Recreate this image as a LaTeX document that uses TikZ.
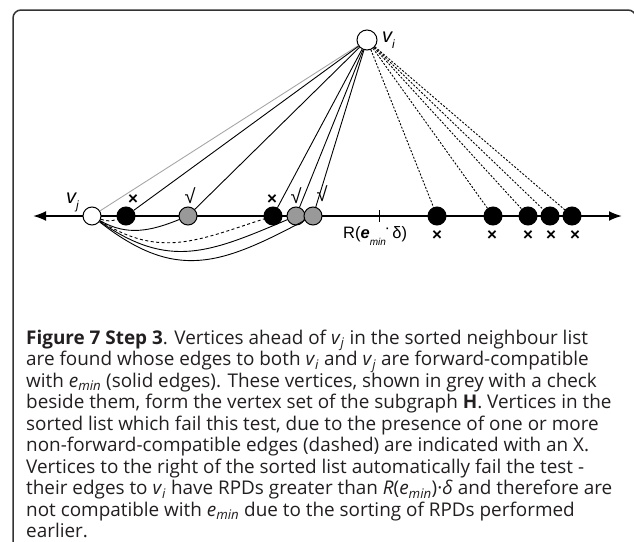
\documentclass[tikz,border=0pt]{standalone}
\usepackage{fontspec}
\setmainfont{Open Sans}
\newfontfamily\diagfont{Liberation Sans}
\usetikzlibrary{arrows.meta}
\definecolor{passgrey}{HTML}{999999}
\definecolor{captext}{HTML}{231F20}
\definecolor{framegrey}{HTML}{333333}
\newcommand\vlab[1]{{\diagfont\fontsize{20}{20}\selectfont\itshape v\raisebox{-0.3em}{\fontsize{12}{12}\selectfont #1}}}
\tikzset{
  vtx/.style={circle, draw=black, line width=1pt, minimum size=18pt, inner sep=0pt},
  endv/.style={vtx, fill=white},
  failv/.style={vtx, fill=black},
  passv/.style={vtx, fill=passgrey},
  axisline/.style={line width=2pt, {Latex[length=13pt,width=10pt]}-{Latex[length=13pt,width=10pt]}},
  okedge/.style={line width=0.9pt},
  badedge/.style={line width=0.9pt, dash pattern=on 2pt off 1.6pt},
  curvedash/.style={line width=0.9pt, dash pattern=on 3pt off 2.5pt},
  xmk/.style={inner sep=0pt, font=\diagfont\bfseries\fontsize{17}{17}\selectfont},
  okmk/.style={inner sep=0pt, font=\diagfont\fontsize{20}{20}\selectfont},
  capline/.style={anchor=base west, inner sep=0pt, text=captext,
    font=\fontsize{18.9}{21.6}\selectfont}
}
\begin{document}
\begin{tikzpicture}[x=1pt,y=1pt]
\useasboundingbox (0,0) rectangle (634,-541);

% frame around the figure and caption
\draw[framegrey, line width=1.5pt, rounded corners=8pt]
  (636,-22) -- (636,-10) -- (13,-10) -- (13,-545);

% sorted neighbour axis with threshold tick
\coordinate (axl) at (33,-216);
\coordinate (axr) at (622,-216);
\coordinate (tk) at (379,-216);
\draw[axisline] (axl) -- (axr);
\draw[line width=1pt] ([yshift=6pt]tk) -- ([yshift=-6pt]tk);

% vertices
\node[endv] (vj) at (92,-216) {};
\node[endv, minimum size=20pt] (vi) at (367,-40) {};
\node[failv] (b1) at (126,-216) {};
\node[passv] (g1) at (188,-216) {};
\node[failv] (b2) at (273,-216) {};
\node[passv] (g2) at (296,-216) {};
\node[passv] (g3) at (313,-216) {};
\node[failv] (r1) at (437,-216) {};
\node[failv] (r2) at (493,-216) {};
\node[failv] (r3) at (528,-216) {};
\node[failv] (r4) at (550,-216) {};
\node[failv] (r5) at (572,-216) {};

% vertex labels
\node[anchor=base west, inner sep=0pt] (lvj) at (66,-203) {\vlab{j}};
\node[anchor=base west, inner sep=0pt] (lvi) at (382,-42) {\vlab{i}};

% threshold label
\node[anchor=west, inner sep=0pt] (thr) at (343,-236)
  {\diagfont\fontsize{16.5}{16.5}\selectfont R(\textbf{\textit{e}}\raisebox{-0.45em}{\fontsize{10}{10}\selectfont\itshape min}\raisebox{0.35em}{\fontsize{11}{11}\selectfont\textbf{·}}\,δ)};

% edges from v_i
\draw[okedge, draw=black!35] (vi) -- (vj);
\draw[okedge] (vi) -- (b1);
\draw[okedge] (vi) -- (g1);
\draw[okedge] (vi) -- (b2);
\draw[okedge] (vi) -- (g2);
\draw[okedge] (vi) -- (g3);
\foreach \t in {r1,r2,r3,r4,r5} \draw[badedge] (vi) -- (\t);

% edges from v_j, curving below the axis
\draw[curvedash] (vj) to[out=-20,in=-160] (b1);
\draw[okedge] (vj) to[out=-30,in=-158] (g1);
\draw[curvedash] (vj) to[out=-32,in=-162,looseness=1.1] (b2);
\draw[okedge] (vj) to[out=-35,in=-157,looseness=1.15] (g2);
\draw[okedge] (vj) to[out=-38,in=-152,looseness=1.2] (g3);

% pass / fail marks
\node[xmk] (x1) at (133,-200) {×};
\node[okmk] (c1) at (190,-196) {√};
\node[xmk] (x2) at (272,-200) {×};
\node[okmk] (c2) at (296,-196) {√};
\node[okmk] (c3) at (322,-194) {√};
\node[xmk] (x3) at (437,-236) {×};
\node[xmk] (x4) at (492,-236) {×};
\node[xmk] (x5) at (528,-236) {×};
\node[xmk] (x6) at (551,-236) {×};
\node[xmk] (x7) at (575,-236) {×};

% caption
\node[capline] (cap1) at (26,-344.0) {\textbf{Figure 7 Step 3}. Vertices ahead of \textit{v}\textsubscript{\textit{j}} in the sorted neighbour list};
\node[capline] (cap2) at (26,-365.5) {are found whose edges to both \textit{v}\textsubscript{\textit{i}} and \textit{v}\textsubscript{\textit{j}} are forward-compatible};
\node[capline] (cap3) at (26,-387.0) {with \textit{e}\textsubscript{\textit{min}} (solid edges). These vertices, shown in grey with a check};
\node[capline] (cap4) at (26,-408.5) {beside them, form the vertex set of the subgraph \textbf{H}. Vertices in the};
\node[capline] (cap5) at (26,-430.0) {sorted list which fail this test, due to the presence of one or more};
\node[capline] (cap6) at (26,-451.5) {non-forward-compatible edges (dashed) are indicated with an X.};
\node[capline] (cap7) at (26,-473.0) {Vertices to the right of the sorted list automatically fail the test -};
\node[capline] (cap8) at (26,-494.5) {their edges to \textit{v}\textsubscript{\textit{i}} have RPDs greater than \textit{R}(\textit{e}\textsubscript{\textit{min}})·\textit{δ} and therefore are};
\node[capline] (cap9) at (26,-516.0) {not compatible with \textit{e}\textsubscript{\textit{min}} due to the sorting of RPDs performed};
\node[capline] (cap10) at (26,-537.5) {earlier.};
\end{tikzpicture}
\end{document}
